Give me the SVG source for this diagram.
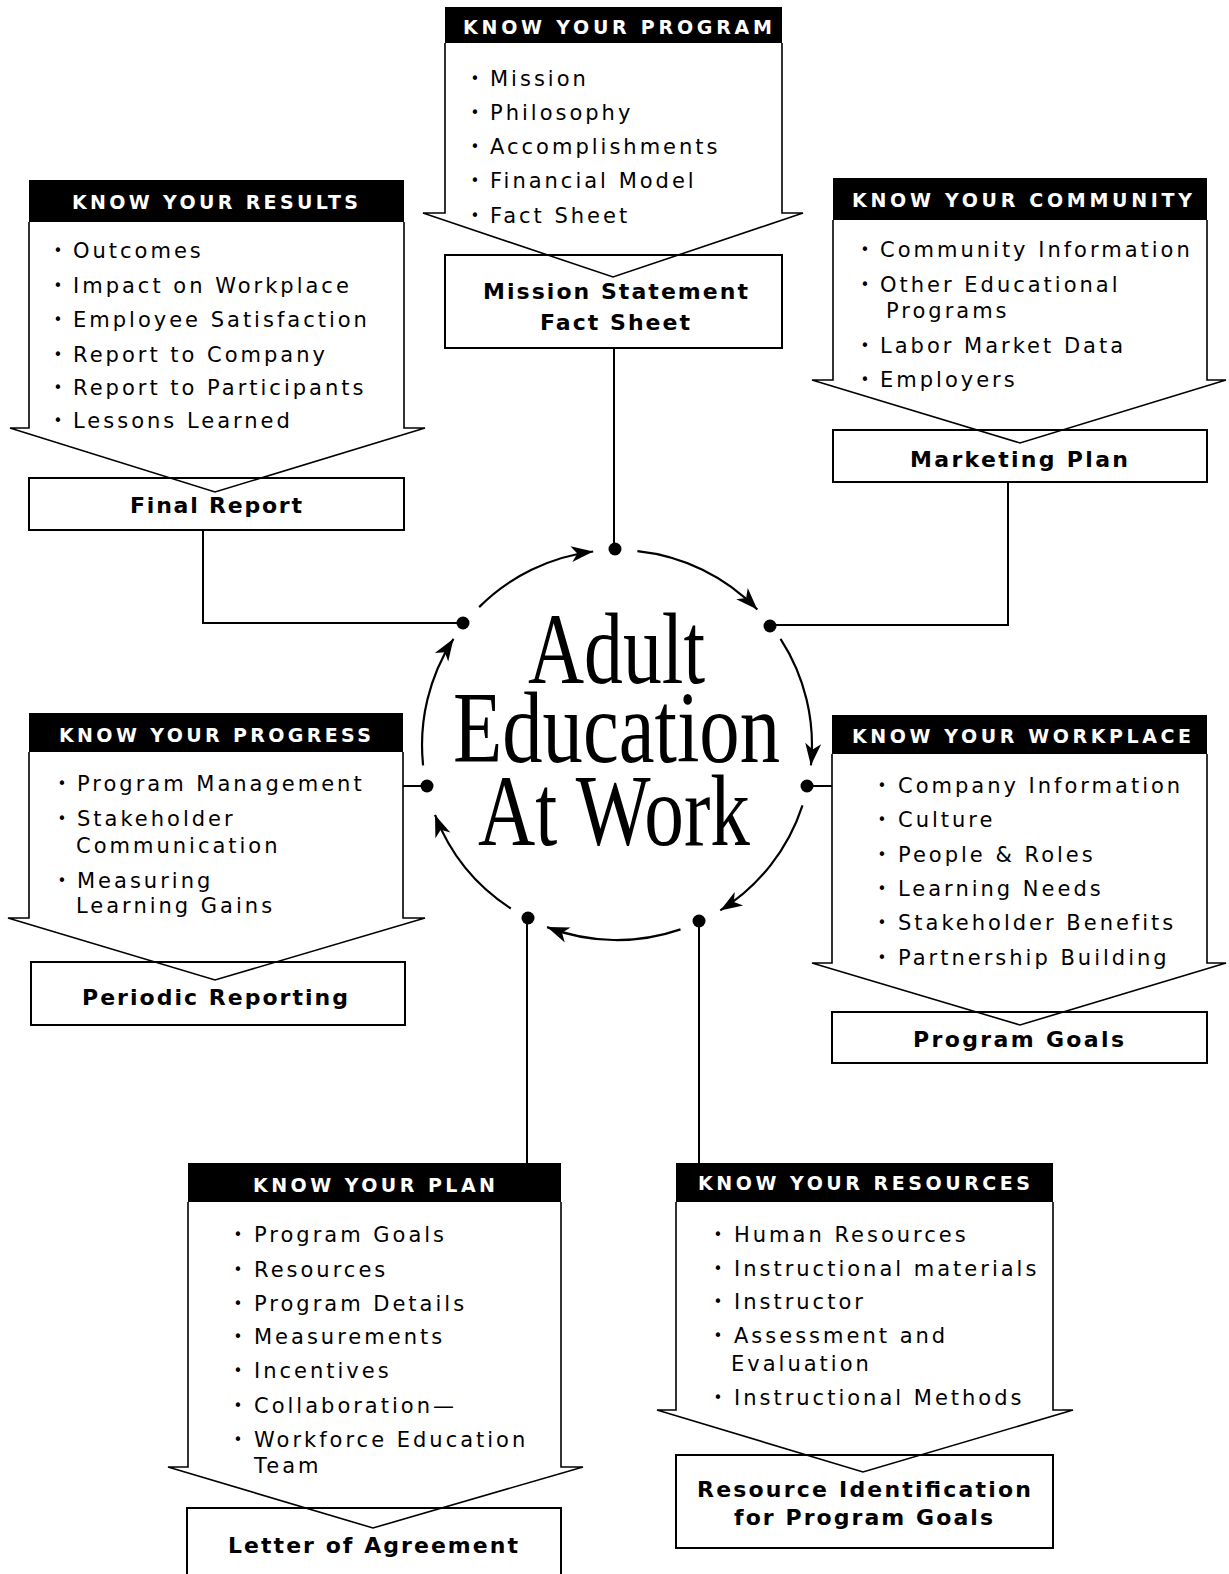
<svg xmlns="http://www.w3.org/2000/svg" width="1229" height="1574" viewBox="0 0 1229 1574">
  <defs>
    <style>
      .hdr { fill: #000; }
      .ht { font-family: "DejaVu Sans", "Liberation Sans", sans-serif; font-weight: bold; font-size: 19px; fill: #fff; }
      .it { font-family: "DejaVu Sans", "Liberation Sans", sans-serif; font-size: 21px; letter-spacing: 3px; fill: #000; }
      .bl { font-family: "DejaVu Sans", "Liberation Sans", sans-serif; font-size: 15px; fill: #000; text-anchor: middle; }
      .out { font-family: "DejaVu Sans", "Liberation Sans", sans-serif; font-weight: bold; font-size: 22px; fill: #000; }
      .chev { fill: none; stroke: #000; stroke-width: 1.6; stroke-linejoin: miter; }
      .box { fill: none; stroke: #000; stroke-width: 2; }
      .wire { fill: none; stroke: #000; stroke-width: 2; }
      .arc { fill: none; stroke: #000; stroke-width: 2.2; marker-end: url(#ah); }
      .dot { fill: #000; }
      .title { font-family: "Liberation Serif", "DejaVu Serif", serif; font-size: 102px; fill: #000; }
    </style>
    <marker id="ah" markerUnits="userSpaceOnUse" markerWidth="24" markerHeight="18" refX="22" refY="9" orient="auto">
      <path d="M0,1 L22,9 L0,17 L6,9 Z" fill="#000"/>
    </marker>
  </defs>

  <rect x="0" y="0" width="1229" height="1574" fill="#fff"/>

  <!-- links between the cycle and the panels -->
  <g id="connectors">
    <path class="wire" d="M614,348 L614,549"/>
    <path class="wire" d="M203,530 L203,623 L463,623"/>
    <path class="wire" d="M1008,482 L1008,625 L770,625"/>
    <path class="wire" d="M403,786 L427,786"/>
    <path class="wire" d="M807,786 L832,786"/>
    <path class="wire" d="M527,1163 L527,918"/>
    <path class="wire" d="M699,1163 L699,921"/>

    <!-- clockwise cycle arcs -->
    <path class="arc" d="M479.1,607.1 A195,195 0 0 1 593.2,551.5"/>
    <path class="arc" d="M637.4,551.1 A195,195 0 0 1 757.3,609.5"/>
    <path class="arc" d="M780.5,638.8 A195,195 0 0 1 810.9,765.4"/>
    <path class="arc" d="M802.5,805.3 A195,195 0 0 1 720.3,910.4"/>
    <path class="arc" d="M680.5,929.4 A195,195 0 0 1 547.1,927.1"/>
    <path class="arc" d="M510.8,908.5 A195,195 0 0 1 435.0,814.9"/>
    <path class="arc" d="M423.1,765.4 A195,195 0 0 1 453.5,638.8"/>

    <circle class="dot" cx="615" cy="549" r="6.5"/>
    <circle class="dot" cx="770" cy="626" r="6.5"/>
    <circle class="dot" cx="807" cy="786" r="6.5"/>
    <circle class="dot" cx="699" cy="921" r="6.5"/>
    <circle class="dot" cx="528" cy="918" r="6.5"/>
    <circle class="dot" cx="427" cy="786" r="6.5"/>
    <circle class="dot" cx="463" cy="623" r="6.5"/>
  </g>

  <!-- central title -->
  <g id="center">
    <text class="title" x="528" y="683" textLength="177" lengthAdjust="spacingAndGlyphs">Adult</text>
    <text class="title" x="453" y="762" textLength="327" lengthAdjust="spacingAndGlyphs">Education</text>
    <text class="title" x="478" y="845" textLength="272" lengthAdjust="spacingAndGlyphs">At Work</text>
  </g>

  <!-- KNOW YOUR PROGRAM -->
  <g id="program">
    <rect class="box" x="445" y="255" width="337" height="93"/>
    <text class="out" x="483" y="299" textLength="265" lengthAdjust="spacing">Mission Statement</text>
    <text class="out" x="540" y="330" textLength="150" lengthAdjust="spacing">Fact Sheet</text>
    <path class="chev" d="M445,43 L445,213 L423,213 L613,277 L803,213 L782,213 L782,43"/>
    <rect class="hdr" x="445" y="7" width="337" height="36"/>
    <text class="ht" x="463" y="34" textLength="309" lengthAdjust="spacing">KNOW YOUR PROGRAM</text>
    <text class="bl" x="475" y="84">•</text><text class="it" x="490" y="86">Mission</text>
    <text class="bl" x="475" y="118">•</text><text class="it" x="490" y="120">Philosophy</text>
    <text class="bl" x="475" y="152">•</text><text class="it" x="490" y="154">Accomplishments</text>
    <text class="bl" x="475" y="186">•</text><text class="it" x="490" y="188">Financial Model</text>
    <text class="bl" x="475" y="221">•</text><text class="it" x="490" y="223">Fact Sheet</text>
  </g>

  <!-- KNOW YOUR RESULTS -->
  <g id="results">
    <rect class="box" x="29" y="478" width="375" height="52"/>
    <text class="out" x="130" y="513" textLength="172" lengthAdjust="spacing">Final Report</text>
    <path class="chev" d="M29,222 L29,428 L10,428 L215,492 L425,428 L404,428 L404,222"/>
    <rect class="hdr" x="29" y="180" width="375" height="42"/>
    <text class="ht" x="72" y="209" textLength="286" lengthAdjust="spacing">KNOW YOUR RESULTS</text>
    <text class="bl" x="58" y="256">•</text><text class="it" x="73" y="258">Outcomes</text>
    <text class="bl" x="58" y="291">•</text><text class="it" x="73" y="293">Impact on Workplace</text>
    <text class="bl" x="58" y="325">•</text><text class="it" x="73" y="327">Employee Satisfaction</text>
    <text class="bl" x="58" y="360">•</text><text class="it" x="73" y="362">Report to Company</text>
    <text class="bl" x="58" y="393">•</text><text class="it" x="73" y="395">Report to Participants</text>
    <text class="bl" x="58" y="426">•</text><text class="it" x="73" y="428">Lessons Learned</text>
  </g>

  <!-- KNOW YOUR COMMUNITY -->
  <g id="community">
    <rect class="box" x="833" y="430" width="374" height="52"/>
    <text class="out" x="910" y="467" textLength="218" lengthAdjust="spacing">Marketing Plan</text>
    <path class="chev" d="M833,220 L833,380 L812,380 L1020,443 L1226,380 L1207,380 L1207,220"/>
    <rect class="hdr" x="833" y="178" width="374" height="42"/>
    <text class="ht" x="852" y="207" textLength="340" lengthAdjust="spacing">KNOW YOUR COMMUNITY</text>
    <text class="bl" x="865" y="255">•</text><text class="it" x="880" y="257">Community Information</text>
    <text class="bl" x="865" y="290">•</text><text class="it" x="880" y="292">Other Educational</text>
    <text class="it" x="886" y="318">Programs</text>
    <text class="bl" x="865" y="351">•</text><text class="it" x="880" y="353">Labor Market Data</text>
    <text class="bl" x="865" y="385">•</text><text class="it" x="880" y="387">Employers</text>
  </g>

  <!-- KNOW YOUR PROGRESS -->
  <g id="progress">
    <rect class="box" x="31" y="962" width="374" height="63"/>
    <text class="out" x="82" y="1005" textLength="266" lengthAdjust="spacing">Periodic Reporting</text>
    <path class="chev" d="M29,752 L29,918 L8,918 L215,980 L425,918 L403,918 L403,752"/>
    <rect class="hdr" x="29" y="713" width="374" height="39"/>
    <text class="ht" x="59" y="742" textLength="312" lengthAdjust="spacing">KNOW YOUR PROGRESS</text>
    <text class="bl" x="62" y="789">•</text><text class="it" x="77" y="791">Program Management</text>
    <text class="bl" x="62" y="824">•</text><text class="it" x="77" y="826">Stakeholder</text>
    <text class="it" x="76" y="853">Communication</text>
    <text class="bl" x="62" y="886">•</text><text class="it" x="77" y="888">Measuring</text>
    <text class="it" x="76" y="913">Learning Gains</text>
  </g>

  <!-- KNOW YOUR WORKPLACE -->
  <g id="workplace">
    <rect class="box" x="832" y="1012" width="375" height="51"/>
    <text class="out" x="913" y="1047" textLength="211" lengthAdjust="spacing">Program Goals</text>
    <path class="chev" d="M832,754 L832,963 L812,963 L1020,1025 L1226,963 L1207,963 L1207,754"/>
    <rect class="hdr" x="832" y="715" width="375" height="39"/>
    <text class="ht" x="852" y="743" textLength="339" lengthAdjust="spacing">KNOW YOUR WORKPLACE</text>
    <text class="bl" x="882" y="791">•</text><text class="it" x="898" y="793">Company Information</text>
    <text class="bl" x="882" y="825">•</text><text class="it" x="898" y="827">Culture</text>
    <text class="bl" x="882" y="860">•</text><text class="it" x="898" y="862">People &amp; Roles</text>
    <text class="bl" x="882" y="894">•</text><text class="it" x="898" y="896">Learning Needs</text>
    <text class="bl" x="882" y="928">•</text><text class="it" x="898" y="930">Stakeholder Benefits</text>
    <text class="bl" x="882" y="963">•</text><text class="it" x="898" y="965">Partnership Building</text>
  </g>

  <!-- KNOW YOUR PLAN -->
  <g id="plan">
    <rect class="box" x="187" y="1508" width="374" height="72"/>
    <text class="out" x="228" y="1553" textLength="290" lengthAdjust="spacing">Letter of Agreement</text>
    <path class="chev" d="M188,1202 L188,1467 L168,1467 L373,1528 L583,1467 L561,1467 L561,1202"/>
    <rect class="hdr" x="188" y="1163" width="373" height="39"/>
    <text class="ht" x="253" y="1192" textLength="242" lengthAdjust="spacing">KNOW YOUR PLAN</text>
    <text class="bl" x="238" y="1240">•</text><text class="it" x="254" y="1242">Program Goals</text>
    <text class="bl" x="238" y="1275">•</text><text class="it" x="254" y="1277">Resources</text>
    <text class="bl" x="238" y="1309">•</text><text class="it" x="254" y="1311">Program Details</text>
    <text class="bl" x="238" y="1342">•</text><text class="it" x="254" y="1344">Measurements</text>
    <text class="bl" x="238" y="1376">•</text><text class="it" x="254" y="1378">Incentives</text>
    <text class="bl" x="238" y="1411">•</text><text class="it" x="254" y="1413">Collaboration—</text>
    <text class="bl" x="238" y="1445">•</text><text class="it" x="254" y="1447">Workforce Education</text>
    <text class="it" x="254" y="1473">Team</text>
  </g>

  <!-- KNOW YOUR RESOURCES -->
  <g id="resources">
    <rect class="box" x="676" y="1455" width="377" height="93"/>
    <text class="out" x="697" y="1497" textLength="334" lengthAdjust="spacing">Resource Identification</text>
    <text class="out" x="734" y="1525" textLength="259" lengthAdjust="spacing">for Program Goals</text>
    <path class="chev" d="M676,1202 L676,1410 L657,1410 L863,1472 L1073,1410 L1053,1410 L1053,1202"/>
    <rect class="hdr" x="676" y="1163" width="377" height="39"/>
    <text class="ht" x="698" y="1190" textLength="332" lengthAdjust="spacing">KNOW YOUR RESOURCES</text>
    <text class="bl" x="718" y="1240">•</text><text class="it" x="734" y="1242">Human Resources</text>
    <text class="bl" x="718" y="1274">•</text><text class="it" x="734" y="1276">Instructional materials</text>
    <text class="bl" x="718" y="1307">•</text><text class="it" x="734" y="1309">Instructor</text>
    <text class="bl" x="718" y="1341">•</text><text class="it" x="734" y="1343">Assessment and</text>
    <text class="it" x="731" y="1371">Evaluation</text>
    <text class="bl" x="718" y="1403">•</text><text class="it" x="734" y="1405">Instructional Methods</text>
  </g>
</svg>
